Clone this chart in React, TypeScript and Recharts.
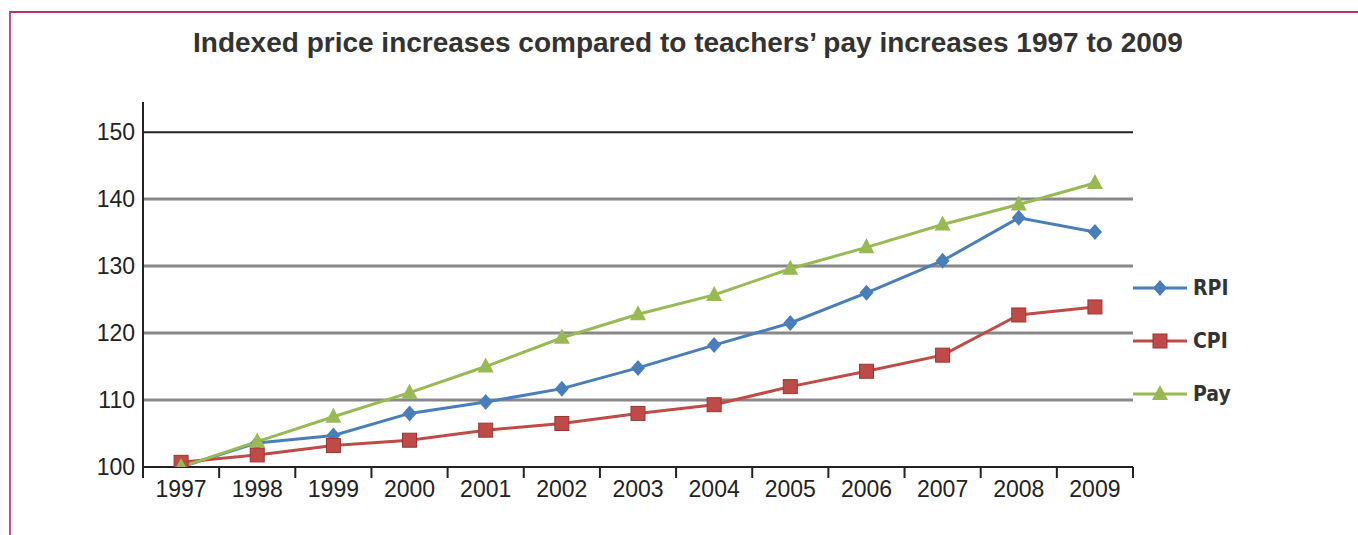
import React from 'react';
import { LineChart, Line, XAxis, YAxis, ReferenceLine } from 'recharts';

const years = ['1997', '1998', '1999', '2000', '2001', '2002', '2003', '2004', '2005', '2006', '2007', '2008', '2009'];
const rpi = [100, 103.6, 104.7, 108.0, 109.7, 111.7, 114.8, 118.2, 121.5, 126.0, 130.8, 137.2, 135.1];
const cpi = [100.7, 101.8, 103.2, 104.0, 105.5, 106.5, 108.0, 109.3, 112.0, 114.3, 116.7, 122.7, 123.9];
const pay = [100, 103.8, 107.5, 111.1, 115.0, 119.3, 122.8, 125.7, 129.6, 132.8, 136.2, 139.2, 142.4];
const yTicks = [100, 110, 120, 130, 140, 150];

const RPI_COLOR = '#4a7ebb';
const CPI_COLOR = '#be4b48';
const PAY_COLOR = '#98b954';
const FONT = '"Liberation Sans", Arial, Helvetica, sans-serif';

const chartData = years.map((year, i) => ({ year, RPI: rpi[i], CPI: cpi[i], Pay: pay[i] }));

// plot box
const CHART_W = 1358;
const CHART_H = 535;
const margin = { top: 102, right: 225, bottom: 38, left: 83 };
const Y_AXIS_W = 60;
const X_AXIS_H = 30;
const plotW = CHART_W - margin.left - margin.right - Y_AXIS_W;
const bandW = plotW / years.length;

const Diamond = ({ cx, cy, fill }: any) => (
    <path d={`M${cx},${cy - 8} L${cx + 7},${cy} L${cx},${cy + 8} L${cx - 7},${cy} Z`} fill={fill} />
);
const Square = ({ cx, cy, fill }: any) => (
    <rect x={cx - 7} y={cy - 7} width={14} height={14} fill={fill} stroke="#9c3431" strokeWidth={1} />
);
const Triangle = ({ cx, cy, fill }: any) => (
    <path d={`M${cx},${cy - 9} L${cx + 8},${cy + 6} L${cx - 8},${cy + 6} Z`} fill={fill} />
);

const XTick = ({ x, y, payload, index }: any) => (
    <g>
        <line x1={x - bandW / 2} x2={x - bandW / 2} y1={y} y2={y + 11} stroke="#222" strokeWidth={2} />
        {index === years.length - 1 && (
            <line x1={x + bandW / 2} x2={x + bandW / 2} y1={y} y2={y + 11} stroke="#222" strokeWidth={2} />
        )}
        <text x={x} y={y + 30} textAnchor="middle" fontSize={23} fill="#222">
            {payload.value}
        </text>
    </g>
);

const legendItems = [
    { name: 'RPI', color: RPI_COLOR, Shape: Diamond },
    { name: 'CPI', color: CPI_COLOR, Shape: Square },
    { name: 'Pay', color: PAY_COLOR, Shape: Triangle },
];

export default function App() {
    return (
        <div style={{ position: 'absolute', top: 0, left: 0, width: CHART_W, height: CHART_H, background: '#fff', fontFamily: FONT }}>
            {/* frame */}
            <div style={{
                position: 'absolute', left: 9, top: 11, right: 0, bottom: 0,
                borderTop: '2px solid #b3336f', borderLeft: '2px solid #c04f86'
            }} />

            <div style={{
                position: 'absolute', top: 27, left: 0, width: 1376, textAlign: 'center',
                fontSize: 28, lineHeight: '32px', fontWeight: 'bold', color: '#333'
            }}>
                Indexed price increases compared to teachers’ pay increases 1997 to 2009
            </div>

            <LineChart width={CHART_W} height={CHART_H} data={chartData} margin={margin} style={{ fontFamily: FONT }}>
                <XAxis
                    dataKey="year"
                    scale="band"
                    height={X_AXIS_H}
                    interval={0}
                    tickLine={false}
                    tickSize={0}
                    tickMargin={0}
                    axisLine={{ stroke: '#222', strokeWidth: 2 }}
                    tick={<XTick />}
                />
                <YAxis
                    width={Y_AXIS_W}
                    domain={[100, 154.5]}
                    ticks={yTicks}
                    allowDataOverflow
                    tickLine={false}
                    axisLine={{ stroke: '#222', strokeWidth: 2 }}
                    tick={{ fontSize: 23, fill: '#222' }}
                />
                {yTicks.slice(1).map((v) => (
                    <ReferenceLine
                        key={v}
                        y={v}
                        stroke={v === 150 ? '#222' : '#888'}
                        strokeWidth={v === 150 ? 2 : 3}
                    />
                ))}
                <Line
                    dataKey="RPI"
                    stroke={RPI_COLOR}
                    strokeWidth={3}
                    isAnimationActive={false}
                    dot={(p: any) => <Diamond key={`rpi-${p.index}`} cx={p.cx} cy={p.cy} fill={RPI_COLOR} />}
                />
                <Line
                    dataKey="CPI"
                    stroke={CPI_COLOR}
                    strokeWidth={3}
                    isAnimationActive={false}
                    dot={(p: any) => <Square key={`cpi-${p.index}`} cx={p.cx} cy={p.cy} fill={CPI_COLOR} />}
                />
                <Line
                    dataKey="Pay"
                    stroke={PAY_COLOR}
                    strokeWidth={3}
                    isAnimationActive={false}
                    dot={(p: any) => <Triangle key={`pay-${p.index}`} cx={p.cx} cy={p.cy} fill={PAY_COLOR} />}
                />
            </LineChart>

            {/* legend */}
            <div style={{ position: 'absolute', left: 1133, top: 261 }}>
                {legendItems.map((item) => (
                    <div key={item.name} style={{ display: 'flex', alignItems: 'center', height: 53 }}>
                        <svg width={56} height={28} style={{ display: 'block' }}>
                            <line x1={0} x2={54} y1={14} y2={14} stroke={item.color} strokeWidth={3} />
                            <item.Shape cx={27} cy={14} fill={item.color} />
                        </svg>
                        <span style={{
                            marginLeft: 4, fontSize: 21, fontWeight: 'bold', color: '#333',
                            fontFamily: '"Liberation Sans Narrow", "DejaVu Sans Condensed", Arial, sans-serif'
                        }}>
                            {item.name}
                        </span>
                    </div>
                ))}
            </div>
        </div>
    );
}
